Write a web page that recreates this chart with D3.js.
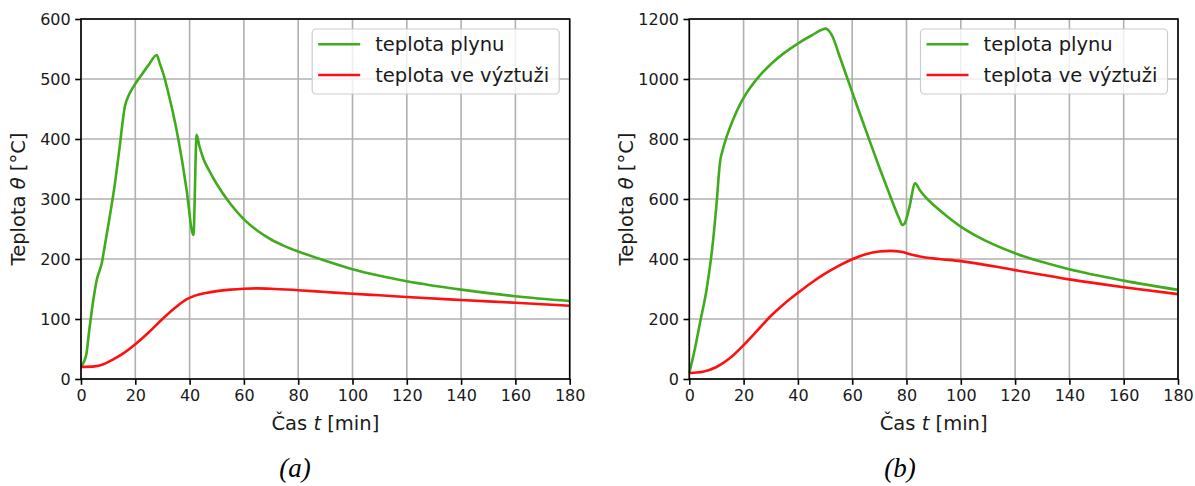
<!DOCTYPE html>
<html>
<head>
<meta charset="utf-8">
<script src="https://cdn.jsdelivr.net/npm/d3@7"></script>
<style>
  html, body { margin: 0; padding: 0; background: #fff; }
  svg { display: block; }
  text { font-family: "DejaVu Sans", sans-serif; fill: #1a1a1a; }
</style>
</head>
<body>
<svg id="chart" width="1195" height="486"></svg>
<script>
// ---- Data: time [min], temperature [°C] ----
// Panel (a)
const gasA = [[0,20],[1,28],[2,42],[3,80],[4,115],[5,145],[5.8,165],[7,183],[7.6,192],[8.5,215],[10,255],[12.5,326],[14,378],[16.2,455],[17.5,472],[19.3,487],[22,505],[25,524],[27.9,540],[29,526],[30.3,509],[32,480],[35.2,415],[37,370],[38.9,315],[41.4,240],[42.6,407],[43.5,390],[45,368],[47.5,345],[48.7,335],[50,325],[55,292],[60,266],[65,247],[70,232.5],[75,221.5],[80,212.5],[90,197],[100,183],[110,172],[120,163],[140,149],[160,138],[180,130]];
const steelA = [[0,20],[5,21],[8,24],[12,33],[15,41],[20,58],[25,78],[30,100],[35,120],[39,133],[42,139],[46,143.5],[50,146.5],[55,149],[60,150.5],[65,151],[70,150.5],[80,148],[90,145],[100,142],[110,139.5],[120,136.7],[140,131.7],[160,127],[180,122]];
// Panel (b)
const gasB = [[0,20],[2,98],[4,190],[6.4,300],[8.5,440],[10,580],[11.3,722],[12.5,770],[13.7,806],[16,862],[18.6,914],[21,952],[24.7,998],[27,1022],[30.8,1056],[35,1087],[40.1,1119],[45,1145],[50.4,1168],[51.5,1160],[52.8,1141],[55,1085],[58.3,1000],[62,905],[66.3,797],[70,705],[74,610],[77.3,535],[78.5,513],[79.3,518],[81,570],[83.2,652],[85,628],[87,606],[90,580],[95,542],[100,508],[106.7,472],[120,419],[140,366],[160,328],[180,297]];
const steelB = [[0,20],[5,24],[10,40],[15,70],[20,113],[25,161],[30,210],[35,251],[40,287],[45,321],[50,351],[55,377],[60,399],[65,416],[70,425],[74,427],[78,424],[82,414],[87,405],[92,400],[100,393],[120,363],[140,332],[160,306],[180,283]];

const xTicks = [0,20,40,60,80,100,120,140,160,180];
const yTicksA = [0,100,200,300,400,500,600];
const yTicksB = [0,200,400,600,800,1000,1200];
const seriesNames = ["teplota plynu", "teplota ve výztuži"];
const seriesColors = ["#3fab1d", "#ff1010"];
const captions = ["(a)", "(b)"];

const svg = d3.select("#chart");
svg.append("rect").attr("width", 1195).attr("height", 486).attr("fill", "#fff");

const plotTop = 19, plotBottom = 379, plotWidth = 488.7;

function drawPanel(left, yMax, yTicks, gas, steel, caption, captionX) {
  const x = d3.scaleLinear().domain([0, 180]).range([left, left + plotWidth]);
  const y = d3.scaleLinear().domain([0, yMax]).range([plotBottom, plotTop]);
  const g = svg.append("g");

  // grid
  g.append("g").selectAll("line").data(xTicks).join("line")
    .attr("x1", d => x(d)).attr("x2", d => x(d))
    .attr("y1", plotTop).attr("y2", plotBottom)
    .attr("stroke", "#b0b0b0").attr("stroke-width", 1.6);
  g.append("g").selectAll("line").data(yTicks).join("line")
    .attr("x1", x(0)).attr("x2", x(180))
    .attr("y1", d => y(d)).attr("y2", d => y(d))
    .attr("stroke", "#b0b0b0").attr("stroke-width", 1.6);

  // series
  const line = d3.line().x(d => x(d[0])).y(d => y(d[1])).curve(d3.curveMonotoneX);
  [gas, steel].forEach((s, i) => {
    g.append("path").datum(s).attr("d", line)
      .attr("fill", "none").attr("stroke", seriesColors[i])
      .attr("stroke-width", 2.6).attr("stroke-linejoin", "round");
  });

  // frame
  g.append("rect").attr("x", x(0)).attr("y", plotTop)
    .attr("width", x(180) - x(0)).attr("height", plotBottom - plotTop)
    .attr("fill", "none").attr("stroke", "#000").attr("stroke-width", 1.6);

  // axes
  const xAxis = d3.axisBottom(x).tickValues(xTicks).tickSize(5.8).tickPadding(4.5).tickFormat(d3.format("d"));
  const yAxis = d3.axisLeft(y).tickValues(yTicks).tickSize(5.8).tickPadding(4.5).tickFormat(d3.format("d"));
  const gx = g.append("g").attr("transform", `translate(0,${plotBottom})`).call(xAxis);
  const gy = g.append("g").attr("transform", `translate(${x(0)},0)`).call(yAxis);
  [gx, gy].forEach(a => {
    a.select(".domain").remove();
    a.selectAll(".tick line").attr("stroke", "#000").attr("stroke-width", 1.6);
    a.selectAll(".tick text").attr("font-family", "DejaVu Sans").attr("font-size", 16).attr("fill", "#1a1a1a");
  });

  // axis labels
  const xl = g.append("text").attr("x", (x(0) + x(180)) / 2).attr("y", 430)
    .attr("text-anchor", "middle").attr("font-size", 19.5);
  xl.append("tspan").text("Čas ");
  xl.append("tspan").attr("font-style", "italic").text("t");
  xl.append("tspan").text(" [min]");

  const yl = g.append("text")
    .attr("transform", `translate(${x(0) - 56.5},${(plotTop + plotBottom) / 2}) rotate(-90)`)
    .attr("text-anchor", "middle").attr("font-size", 19.5);
  yl.append("tspan").text("Teplota ");
  yl.append("tspan").attr("font-style", "italic").text("θ");
  yl.append("tspan").text(" [°C]");

  // legend
  const lx = x(180) - 257.5, ly = 29;
  const lg = g.append("g");
  lg.append("rect").attr("x", lx).attr("y", ly).attr("width", 247).attr("height", 65)
    .attr("rx", 4).attr("fill", "#fff").attr("fill-opacity", 0.8)
    .attr("stroke", "#cccccc").attr("stroke-width", 1.2);
  seriesNames.forEach((name, i) => {
    const yy = ly + 15.3 + i * 30.7;
    lg.append("line").attr("x1", lx + 6).attr("x2", lx + 48).attr("y1", yy).attr("y2", yy)
      .attr("stroke", seriesColors[i]).attr("stroke-width", 2.6);
    lg.append("text").attr("x", lx + 63).attr("y", yy + 7).attr("font-size", 19.5).text(name);
  });

  // caption
  svg.append("text").attr("x", captionX).attr("y", 477).attr("text-anchor", "middle")
    .style("font-family", "'Liberation Serif', 'Times New Roman', serif")
    .style("font-style", "italic").style("font-size", "27px").style("fill", "#000")
    .text(caption);
}

drawPanel(81, 600, yTicksA, gasA, steelA, captions[0], 295);
drawPanel(689.3, 1200, yTicksB, gasB, steelB, captions[1], 900);
</script>
</body>
</html>
